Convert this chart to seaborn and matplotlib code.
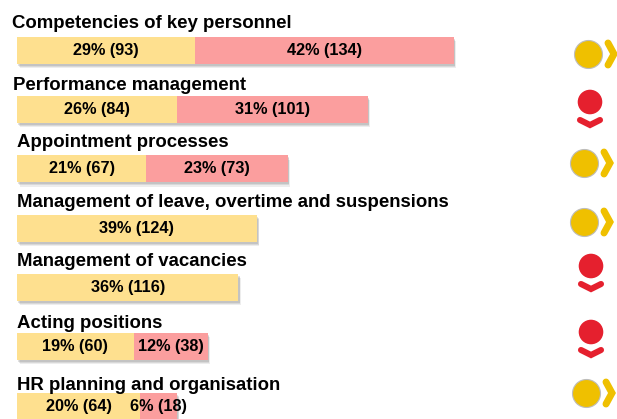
import matplotlib
matplotlib.use("Agg")
import matplotlib.pyplot as plt
import matplotlib.patheffects as pe
import pandas as pd
import seaborn as sns

# --- data ---
categories = ["Competencies of key personnel", "Performance management", "Appointment processes",
              "Management of leave, overtime and suspensions", "Management of vacancies",
              "Acting positions", "HR planning and organisation"]
yellow_pct = [29, 26, 21, 39, 36, 19, 20]
yellow_n = [93, 84, 67, 124, 116, 60, 64]
red_pct = [42, 31, 23, 0, 0, 12, 6]
red_n = [134, 101, 73, 0, 0, 38, 18]
status = ["side", "down", "side", "side", "down", "down", "side"]

# --- layout (pixels) ---
W, H = 617, 419
PX_PER_PCT = 6.15
BAR_LEFT = 17
BAR_TOP0, BAR_STEP, BAR_H = 36.8, 59.3, 27
title_x = [12, 13, 17, 17, 17, 17, 17]
title_y = [24, 86, 142, 202, 261, 323, 385]
icon_x = [588, 590, 584, 584, 591, 591, 586]
icon_y = [54, 102, 163, 222, 266, 332, 393]

sns.set_theme(style="white")
plt.rcParams["font.family"] = ["Liberation Sans", "DejaVu Sans"]
YEL, RED = "#FEE08F", "#FB9E9E"

fig = plt.figure(figsize=(W / 100, H / 100), dpi=100, facecolor="white")
ax = fig.add_axes([0, 0, 1, 1])
df = pd.DataFrame({"cat": categories, "y": yellow_pct, "r": red_pct})
width = BAR_H / BAR_STEP
sns.barplot(data=df, y="cat", x="y", color=YEL, saturation=1, width=width, ax=ax, orient="h")
sns.barplot(data=df, y="cat", x="r", left=df["y"], color=RED, saturation=1, width=width, ax=ax, orient="h")
ax.set_xlim(-BAR_LEFT / PX_PER_PCT, (W - BAR_LEFT) / PX_PER_PCT)
y0 = (BAR_TOP0 + BAR_H / 2) / BAR_STEP
ax.set_ylim(H / BAR_STEP - y0, -y0)
ax.axis("off")

shadow = [pe.SimplePatchShadow(offset=o, shadow_rgbFace="#707070", alpha=a)
          for o, a in [((1.8, -3.0), 0.12), ((1.3, -2.2), 0.16), ((0.8, -1.4), 0.2)]]
for p in ax.patches:
    p.set_edgecolor("none")
    p.set_path_effects(shadow + [pe.Normal()])

FS = 13.4
LFS = 11.7
for i, (yp, yn, rp, rn) in enumerate(zip(yellow_pct, yellow_n, red_pct, red_n)):
    ax.text(yp / 2, i, f"{yp}% ({yn})", ha="center", va="center", fontsize=LFS, fontweight="bold", color="black", zorder=5)
    if rp:
        ax.text(yp + rp / 2, i, f"{rp}% ({rn})", ha="center", va="center", fontsize=LFS,
                fontweight="bold", color="black", zorder=5)

ov = fig.add_axes([0, 0, 1, 1], facecolor="none")
ov.set_xlim(0, W)
ov.set_ylim(H, 0)
ov.axis("off")
for name, tx, ty in zip(categories, title_x, title_y):
    ov.text(tx, ty, name, ha="left", va="center", fontsize=FS, fontweight="bold", color="black")

for st, ix, iy in zip(status, icon_x, icon_y):
    if st == "side":
        ov.scatter([ix], [iy], s=(2 * 14 * 0.72) ** 2, color="#EFC000", edgecolor="#BDBDBD", linewidth=0.8, zorder=3)
        ov.plot([ix + 20, ix + 26, ix + 20], [iy - 11, iy, iy + 11], color="#EFC000", lw=5, solid_capstyle="round",
                solid_joinstyle="miter")
    else:
        ov.scatter([ix], [iy], s=(2 * 12.3 * 0.72) ** 2, color="#E5202E", edgecolor="none", zorder=3)
        ov.plot([ix - 10, ix, ix + 10], [iy + 18, iy + 23, iy + 18], color="#E5202E", lw=4.4, solid_capstyle="round",
                solid_joinstyle="miter")

fig.savefig("out.png", dpi=100)
